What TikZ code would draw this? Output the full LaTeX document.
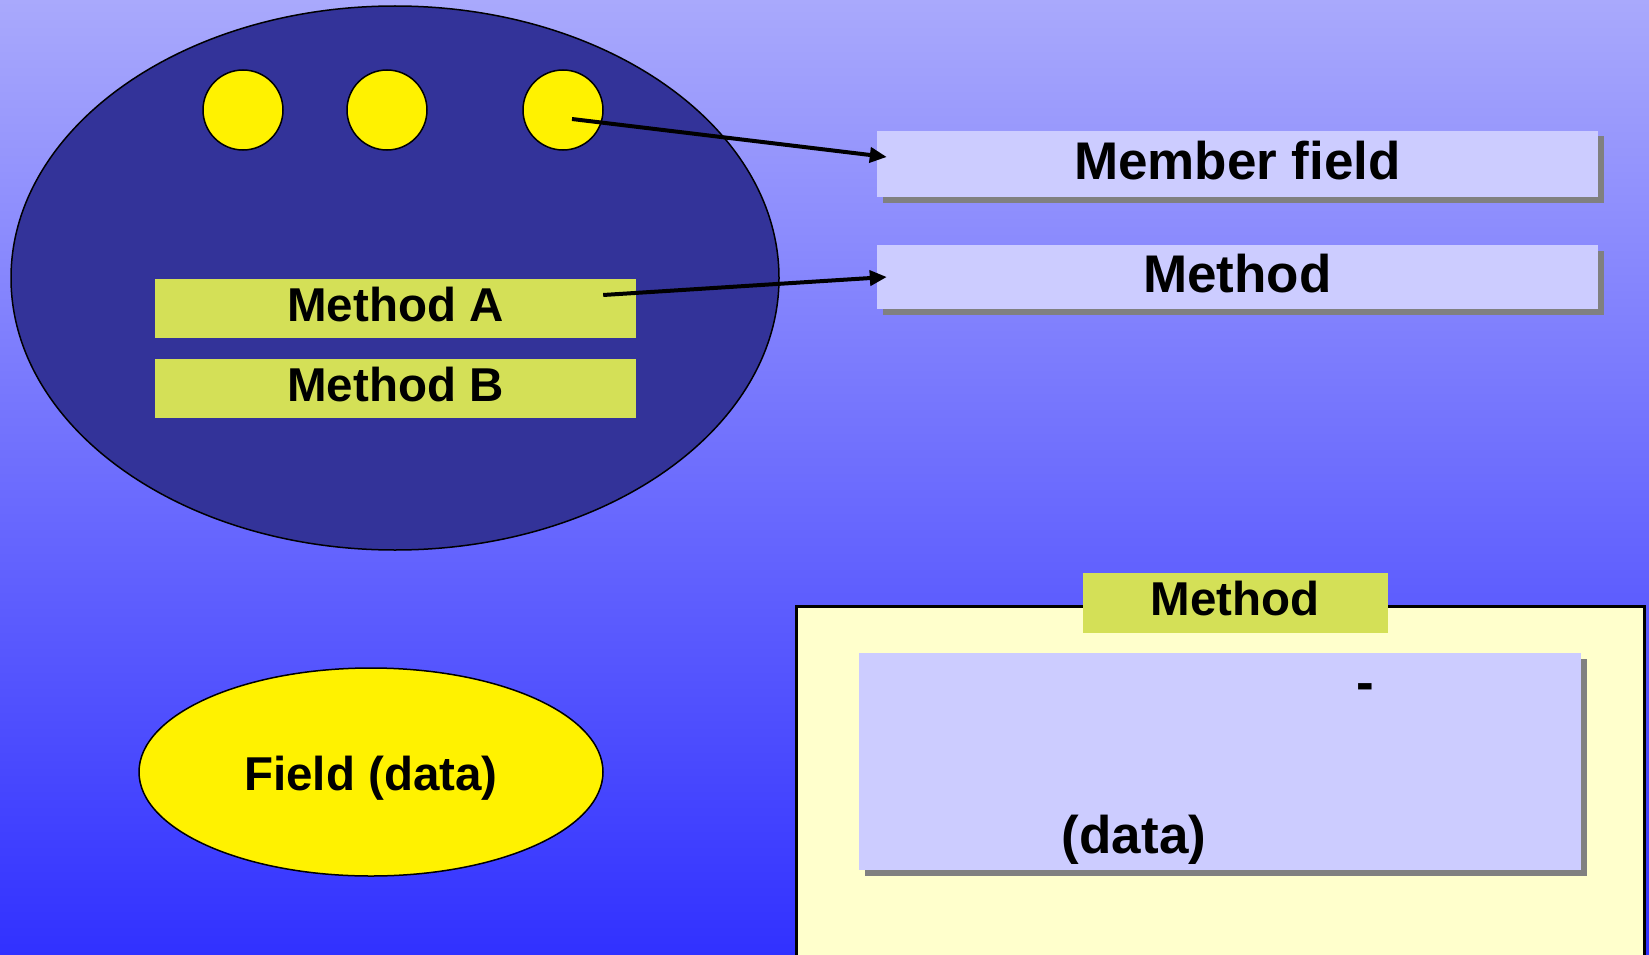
\documentclass[tikz,border=0pt]{standalone}
\usepackage{fontspec}
\setmainfont{Liberation Sans}
\usetikzlibrary{shapes.geometric,shadows,arrows.meta}
\definecolor{bgtop}{HTML}{A9A9FC}
\definecolor{bgmid}{HTML}{8080FD}
\definecolor{bgbot}{HTML}{3131FF}
\definecolor{objblue}{HTML}{333399}
\definecolor{lav}{HTML}{CCCCFF}
\definecolor{olive}{HTML}{D4E057}
\definecolor{cream}{HTML}{FFFFCC}
\definecolor{shadowgray}{HTML}{808080}
\begin{document}
\begin{tikzpicture}[x=1pt,y=-1pt,
  big/.style={font=\fontsize{53}{60}\selectfont\bfseries, text height=30pt, text depth=0pt},
  mid/.style={font=\fontsize{47.5}{54}\selectfont\bfseries, text height=25pt, text depth=0pt},
  lavbox/.style={fill=lav, inner sep=0pt,
    drop shadow={opacity=1, fill=shadowgray, shadow xshift=5.5pt, shadow yshift=-5.5pt}},
  greenbox/.style={fill=olive, inner sep=0pt},
  dot/.style={circle, fill=yellow, draw=black, line width=1.5pt, minimum size=80pt, inner sep=0pt},
  link/.style={line width=4pt, -{Triangle[length=17pt,width=15pt]}}
]
\useasboundingbox (0,0) rectangle (1649,955);
% background gradient
\shade[top color=bgtop, middle color=bgmid, bottom color=bgbot] (0,0) rectangle (1649,955);

% the object with its fields and methods
\node[ellipse, fill=objblue, draw=black, line width=1.5pt,
      minimum width=768pt, minimum height=544pt, inner sep=0pt] (obj) at (395,278) {};
\node[dot] (f1) at (243,110) {};
\node[dot] (f2) at (387,110) {};
\node[dot] (f3) at (563,110) {};
\node[greenbox, mid, minimum width=481pt, minimum height=59pt] (ma) at (395.5,308.5) {Method A};
\node[greenbox, mid, minimum width=481pt, minimum height=59pt] (mb) at (395.5,388.5) {Method B};

% legend boxes
\node[lavbox, big, minimum width=721pt, minimum height=66pt] (mf) at (1237.5,164) {Member field};
\node[lavbox, big, minimum width=721pt, minimum height=64pt] (mt) at (1237.5,277) {Method};

% field ellipse
\node[ellipse, fill=yellow, draw=black, line width=1.5pt,
      minimum width=464pt, minimum height=208pt, inner sep=0pt, mid, text height=37pt] (fd) at (371,772) {Field (data)};

% method panel
\node[draw=black, fill=cream, line width=2.5pt, anchor=north west,
      minimum width=848pt, minimum height=380pt, inner sep=0pt] (panel) at (795,605) {};
\node[greenbox, mid, minimum width=305pt, minimum height=60pt] (lbl) at (1235,603) {Method};
\node[lavbox, minimum width=722pt, minimum height=217pt] (body) at (1220,761.5) {};
\node[big, anchor=base, inner sep=0pt] (hy) at (1365,700) {-};
\node[big, anchor=base, inner sep=0pt] (dat) at (1134,853) {(data)};

% connectors
\draw[link] ([xshift=9pt,yshift=-9pt]f3.center) -- ([xshift=10pt,yshift=7pt]mf.west);
\draw[link] ([xshift=-33pt,yshift=13.5pt]ma.east) -- ([xshift=10pt]mt.west);
\end{tikzpicture}
\end{document}
